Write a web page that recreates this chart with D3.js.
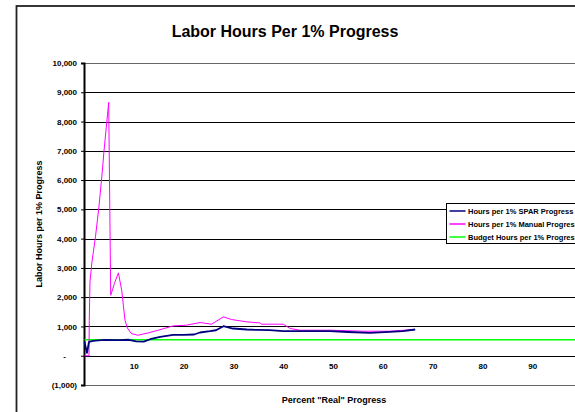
<!DOCTYPE html>
<meta charset="utf-8">
<style>
  body { margin: 0; background: white; }
  svg { background-color: white; display: block; }
  .axis text { font-family: "Liberation Sans", Arial, sans-serif; font-size: 8px; font-weight: bold; fill: black; }
  .grid line { stroke: #000; shape-rendering: crispEdges; }
  .title { font-family: "Liberation Sans", Arial, sans-serif; font-size: 16px; font-weight: bold; }
  .axis-title { font-family: "Liberation Sans", Arial, sans-serif; font-size: 9px; font-weight: bold; }
  .legend text { font-family: "Liberation Sans", Arial, sans-serif; font-size: 7.5px; font-weight: bold; }
</style>
<body>
<div id="chart"></div>
<script src="https://cdn.jsdelivr.net/npm/d3@7"></script>
<script>
  // data
  var sparPct   = [0.1, 0.6, 1.0, 1.8, 4, 7, 9, 10.5, 12, 13.3, 15.3, 17.9, 20, 22.1, 23.3, 25.3, 26.5, 28, 29.9, 32.7, 35, 37.3, 40, 43.4, 49.4, 53, 57.4, 61.4, 64, 66.5];
  var sparHours = [472, 96, 472, 506, 540, 530, 545, 490, 480, 564, 643, 711, 715, 725, 793, 838, 870, 1009, 930, 896, 880, 872, 838, 838, 838, 810, 780, 814, 840, 896];

  var manualPct   = [0.1, 1.0, 1.06, 1.2, 1.6, 2.3, 3.0, 3.7, 4.0, 4.96, 5.36, 5.8, 6.1, 6.9, 7.57, 8.23, 8.7, 9.5, 10.8, 12.9, 14.9, 17.9, 20.6, 23.3, 25.6, 28, 29.6, 32.7, 35.3, 35.7, 40, 41.4, 43.4, 49.4, 56, 61.4, 66.5];
  var manualHours = [0, 0, 1200, 2523, 3207, 4062, 5087, 6342, 6968, 8656, 2068, 2297, 2468, 2831, 2239, 1214, 950, 759, 700, 780, 872, 1019, 1043, 1135, 1077, 1326, 1238, 1156, 1121, 1077, 1077, 930, 872, 872, 838, 838, 896];

  var budgetPct   = [0.1, 100];
  var budgetHours = [550, 550];

  var yTicks = [-1000, 0, 1000, 2000, 3000, 4000, 5000, 6000, 7000, 8000, 9000, 10000];
  var xTicks = [10, 20, 30, 40, 50, 60, 70, 80, 90];

  var seriesNames  = ["Hours per 1% SPAR Progress", "Hours per 1% Manual Progress", "Budget Hours per 1% Progress"];
  var seriesColors = ["#000080", "#ff00ff", "#00ff00"];
  var seriesWidths = [1.8, 1, 1.5];

  var W = 575, H = 412;
  var margin = {top: 63, left: 84};
  var plotW = 498, plotH = 322;

  var svg = d3.select("#chart").append("svg")
      .attr("width", W)
      .attr("height", H);

  // outer chart border (runs off the right/bottom)
  svg.append("rect")
      .attr("x", 16.5).attr("y", 6)
      .attr("width", 620).attr("height", 450)
      .attr("fill", "white")
      .attr("stroke", "#222")
      .attr("stroke-width", 1.8);

  svg.append("text")
      .attr("class", "title")
      .attr("x", 285).attr("y", 37)
      .attr("text-anchor", "middle")
      .text("Labor Hours Per 1% Progress");

  var g = svg.append("g")
      .attr("transform", "translate(" + margin.left + "," + margin.top + ")");

  var x = d3.scaleLinear().domain([0, 100]).range([0, plotW]);
  var y = d3.scaleLinear().domain([-1000, 10000]).range([plotH, 0]);

  // gridlines
  g.append("g")
      .attr("class", "grid")
      .selectAll("line")
      .data(yTicks.filter(function(d) { return d > 0; }))
      .enter().append("line")
      .attr("x1", 0).attr("x2", plotW)
      .attr("y1", function(d) { return Math.round(y(d)) + 0.5; })
      .attr("y2", function(d) { return Math.round(y(d)) + 0.5; });

  // plot frame
  g.append("rect")
      .attr("x", 0.5).attr("y", 0.5)
      .attr("width", plotW).attr("height", plotH)
      .attr("fill", "none")
      .attr("stroke", "#666")
      .attr("stroke-width", 1);

  var yFmt = function(d) {
    if (d === 0) return "-";
    if (d < 0) return "(" + d3.format(",")(-d) + ")";
    return d3.format(",")(d);
  };

  var yAxis = g.append("g")
      .attr("class", "axis")
      .call(d3.axisLeft(y).tickValues(yTicks).tickFormat(yFmt).tickSize(3).tickPadding(4));
  yAxis.select(".domain").attr("stroke", "#000").attr("stroke-width", 2);
  yAxis.selectAll(".tick line").attr("stroke", "#000");
  // accounting-style dash sits left of the numbers
  yAxis.selectAll(".tick text").filter(function(d) { return d === 0; }).attr("dx", "-11px");

  var xAxis = g.append("g")
      .attr("class", "axis")
      .attr("transform", "translate(0," + y(0) + ")")
      .call(d3.axisBottom(x).tickValues(xTicks).tickSize(0).tickPadding(8));
  xAxis.select(".domain").remove();
  g.append("line")
      .attr("x1", 0).attr("x2", plotW)
      .attr("y1", Math.round(y(0)) + 0.5).attr("y2", Math.round(y(0)) + 0.5)
      .attr("stroke", "#000")
      .attr("shape-rendering", "crispEdges");

  var line = d3.line()
      .x(function(d) { return x(d[0]); })
      .y(function(d) { return y(d[1]); });

  var series = [
    d3.zip(sparPct, sparHours),
    d3.zip(manualPct, manualHours),
    d3.zip(budgetPct, budgetHours)
  ];
  var drawOrder = [2, 1, 0];
  drawOrder.forEach(function(i) {
    g.append("path")
        .datum(series[i])
        .attr("fill", "none")
        .attr("stroke", seriesColors[i])
        .attr("stroke-width", seriesWidths[i])
        .attr("stroke-linejoin", "round")
        .attr("d", line);
  });

  // axis titles
  svg.append("text")
      .attr("class", "axis-title")
      .attr("x", 334).attr("y", 403)
      .attr("text-anchor", "middle")
      .text('Percent "Real" Progress');

  svg.append("text")
      .attr("class", "axis-title")
      .attr("transform", "translate(42," + (margin.top + plotH / 2) + ") rotate(-90)")
      .attr("text-anchor", "middle")
      .text("Labor Hours per 1% Progress");

  // legend (runs off the right edge, as in the original)
  var legend = svg.append("g")
      .attr("class", "legend")
      .attr("transform", "translate(446.5,203.5)");
  legend.append("rect")
      .attr("width", 150).attr("height", 40)
      .attr("fill", "white")
      .attr("stroke", "#000")
      .attr("stroke-width", 1);
  seriesNames.forEach(function(name, i) {
    var ly = 7.5 + i * 13;
    legend.append("line")
        .attr("x1", 3).attr("x2", 19)
        .attr("y1", ly).attr("y2", ly)
        .attr("stroke", seriesColors[i])
        .attr("stroke-width", 1.5);
    legend.append("text")
        .attr("x", 21.5).attr("y", ly + 2.7)
        .text(name);
  });
</script>
</body>
